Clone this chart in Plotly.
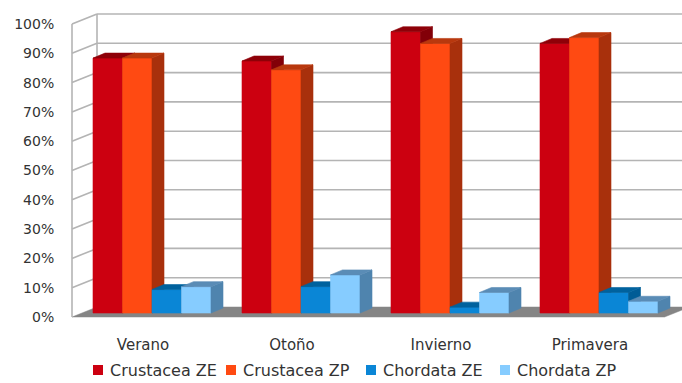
import plotly.graph_objects as go

categories = ["Verano", "Otoño", "Invierno", "Primavera"]
series_names = ["Crustacea ZE", "Crustacea ZP", "Chordata ZE", "Chordata ZP"]
crustacea_ze = [87, 86, 96, 92]
crustacea_zp = [87, 83, 92, 94]
chordata_ze = [8, 9, 2, 7]
chordata_zp = [9, 13, 7, 4]
tick_values = [0, 10, 20, 30, 40, 50, 60, 70, 80, 90, 100]

series_values = [crustacea_ze, crustacea_zp, chordata_ze, chordata_zp]
front_colors = ["#cc0010", "#ff4a12", "#0a86d6", "#86ccff"]
side_colors = ["#820008", "#a8300c", "#005c96", "#4f84ae"]
top_colors = ["#8e0008", "#b8380e", "#00629e", "#5a8cb6"]

W, H = 682, 383
ML, MR, MT, MB = 68, 0, 10, 60
PXX = 149.0      # pixels per category unit
PXY = 2.93       # pixels per percent
plot_w = W - ML - MR
plot_h = H - MT - MB
x0 = -0.5 - 0.5 / PXX
xr = [x0, x0 + plot_w / PXX]
y0 = -6 / PXY
yr = [y0, y0 + plot_h / PXY]

def px_x(p):
    return p / PXX

def px_y(p):
    return p / PXY

def paper_x(p):
    return (p - ML) / plot_w

def paper_y(p):
    return (H - MB - p) / plot_h

WX, WY = px_x(25), px_y(10)     # back wall depth offset
BX, BY = px_x(9), px_y(4)       # bar front offset
DX, DY = px_x(12), px_y(5)      # bar depth
BW = px_x(29.5)                 # bar width
FL = -0.5 + px_x(3.5)
FR = 3.5
BL = FL + WX

grid_col = "#b4b4b4"
fig = go.Figure()

# floor
fig.add_trace(go.Scatter(
    x=[FL, FR, FR + WX, BL, FL], y=[0, 0, WY, WY, 0],
    mode="lines", fill="toself", fillcolor="#858585",
    line=dict(color="#858585", width=0.5), hoverinfo="skip", showlegend=False))

# walls / grid
gx, gy = [], []
for t in tick_values:
    if t > 0:
        gx += [BL, xr[1] + 1, None]
        gy += [t + WY, t + WY, None]
        gx += [FL, BL, None]
        gy += [t, t + WY, None]
gx += [BL, BL, None, FL, FL, None]
gy += [WY, tick_values[-1] + WY, None, 0, tick_values[-1], None]
fig.add_trace(go.Scatter(x=gx, y=gy, mode="lines",
                         line=dict(color=grid_col, width=1.6),
                         hoverinfo="skip", showlegend=False))

# bars (front, side, top)
for c in range(len(categories)):
    for i, vals in enumerate(series_values):
        v = vals[c]
        left = c + BX - 2 * BW + i * BW
        right = left + BW
        bot = BY
        top = BY + v
        faces = [
            ([left, right, right, left, left], [bot, bot, top, top, bot], front_colors[i]),
            ([right, right + DX, right + DX, right, right],
             [bot, bot + DY, top + DY, top, bot], side_colors[i]),
            ([left, left + DX, right + DX, right, left],
             [top, top + DY, top + DY, top, top], top_colors[i]),
        ]
        for fx, fy, col in faces:
            fig.add_trace(go.Scatter(
                x=fx, y=fy, mode="lines", fill="toself", fillcolor=col,
                line=dict(color=col, width=0.6), hoverinfo="skip", showlegend=False))

# manual legend (square + label)
legend_square_px = [93, 226, 366, 500]
legend_y_px = 370
sq = 10
for name, col, lx in zip(series_names, front_colors, legend_square_px):
    fig.add_shape(type="rect", xref="paper", yref="paper",
                  x0=paper_x(lx), x1=paper_x(lx + sq),
                  y0=paper_y(legend_y_px + sq / 2), y1=paper_y(legend_y_px - sq / 2),
                  fillcolor=col, line=dict(width=0))
    fig.add_annotation(xref="paper", yref="paper", x=paper_x(lx + sq + 5),
                       y=paper_y(legend_y_px), text=name, showarrow=False,
                       xanchor="left", yanchor="middle",
                       font=dict(family="DejaVu Sans", size=16, color="#333333"))

font = dict(family="DejaVu Sans", size=14, color="#333333")
fig.update_layout(
    width=W, height=H,
    margin=dict(l=ML, r=MR, t=MT, b=MB, autoexpand=False),
    paper_bgcolor="white", plot_bgcolor="white", font=font,
    xaxis=dict(range=xr, tickvals=list(range(len(categories))), ticktext=categories,
               showgrid=False, zeroline=False, showline=False, automargin=False,
               tickfont=dict(family="DejaVu Sans", size=15, color="#333333"),
               ticks="outside", ticklen=8, tickcolor="rgba(0,0,0,0)", fixedrange=True),
    yaxis=dict(range=yr, tickvals=tick_values, ticktext=[f"{t}%" for t in tick_values],
               showgrid=False, zeroline=False, showline=False, automargin=False,
               ticks="outside", ticklen=10, tickcolor="rgba(0,0,0,0)", fixedrange=True),
    showlegend=False,
)
fig.write_html("out.html")
